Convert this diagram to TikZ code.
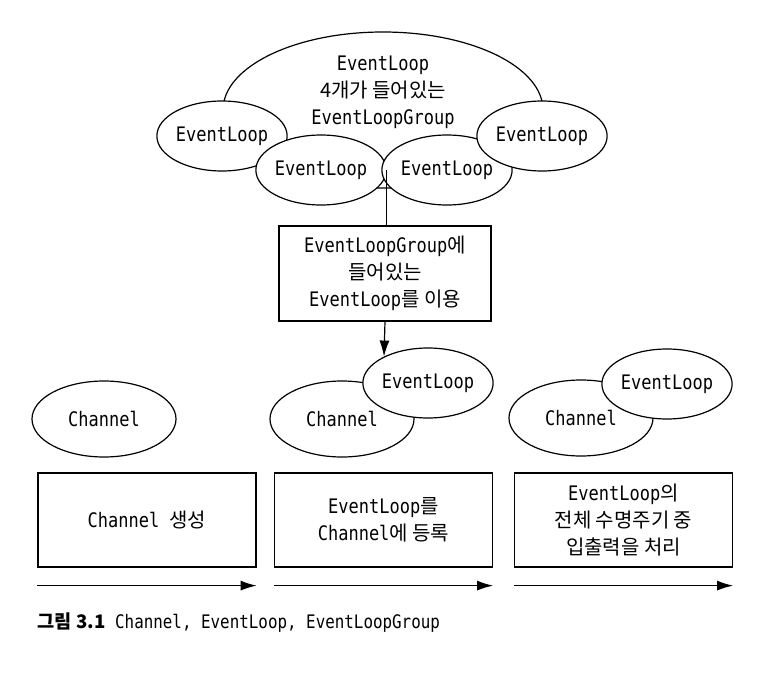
\documentclass[tikz,border=0pt]{standalone}
\usepackage{fontspec}
\setmainfont{DejaVu Sans Mono}[FakeStretch=0.85]
\newfontfamily\krfont{Noto Sans CJK KR}
\usetikzlibrary{shapes.geometric,arrows.meta}
\tikzset{x=0.75pt, y=-0.75pt,
    every node/.style={font=\fontsize{15pt}{20.25pt}\selectfont, align=center},
    evloop/.style={ellipse, draw, fill=white, line width=0.9pt, inner sep=0pt,
        minimum width=97.5pt, minimum height=52.5pt},
    chan/.style={evloop, minimum width=108pt, minimum height=57pt},
    loopgroup/.style={evloop, minimum width=240pt, minimum height=117pt},
    stage/.style={rectangle, draw, line width=0.9pt, inner sep=0pt,
        minimum width=163.5pt, minimum height=70.5pt},
    flow/.style={line width=0.9pt, -{Latex[length=12pt,width=7.5pt]}},
    }

\begin{document}
\begin{tikzpicture}
	\useasboundingbox[fill=white] (0,0) rectangle (769,675);
	% EventLoopGroup
	\node[loopgroup] (grp) at (383,110) {};
	\node (grptxt) at (383,92) {EventLoop\\{\krfont 4개가 들어있는}\\EventLoopGroup};
	\node[evloop] (gl1) at (222,136) {EventLoop};
	\node[evloop] (gl2) at (321,170) {EventLoop};
	\node[evloop] (gl3) at (447,170) {EventLoop};
	\node[evloop] (gl4) at (542,136) {EventLoop};
	\node[stage, minimum width=159pt, minimum height=71.25pt] (usebox) at (385,273.5)
		{EventLoopGroup{\krfont 에}\\{\krfont 들어있는}\\EventLoop{\krfont 를 이용}};
	% Channels
	\node[chan] (ch1) at (104,419) {Channel};
	\node[chan] (ch2) at (342,419) {Channel};
	\node[evloop] (el2) at (428,383) {EventLoop};
	\node[chan] (ch3) at (581,418) {Channel};
	\node[evloop] (el3) at (667,384) {EventLoop};
	\draw[line width=0.9pt] (gl2.east) -- (gl2.east |- usebox.north);
	\draw[flow] (usebox.south) -- (el2.149);
	% stages
	\node[stage] (s1) at (147,520) {Channel {\krfont 생성}};
	\node[stage] (s2) at (383.5,520) {EventLoop{\krfont 를}\\Channel{\krfont 에 등록}};
	\node[stage] (s3) at (623.5,520) {EventLoop{\krfont 의}\\{\krfont 전체 수명주기 중}\\{\krfont 입출력을 처리}};
	\foreach \s in {s1,s2,s3}
		\draw[flow] ([yshift=-13.5pt]\s.south west) -- ([yshift=-13.5pt]\s.south east);
	\node[anchor=west, font=\fontsize{14pt}{16pt}\selectfont] (caption) at (33,623)
		{{\krfont\bfseries 그림 3.1} Channel, EventLoop, EventLoopGroup};
\end{tikzpicture}
\end{document}
